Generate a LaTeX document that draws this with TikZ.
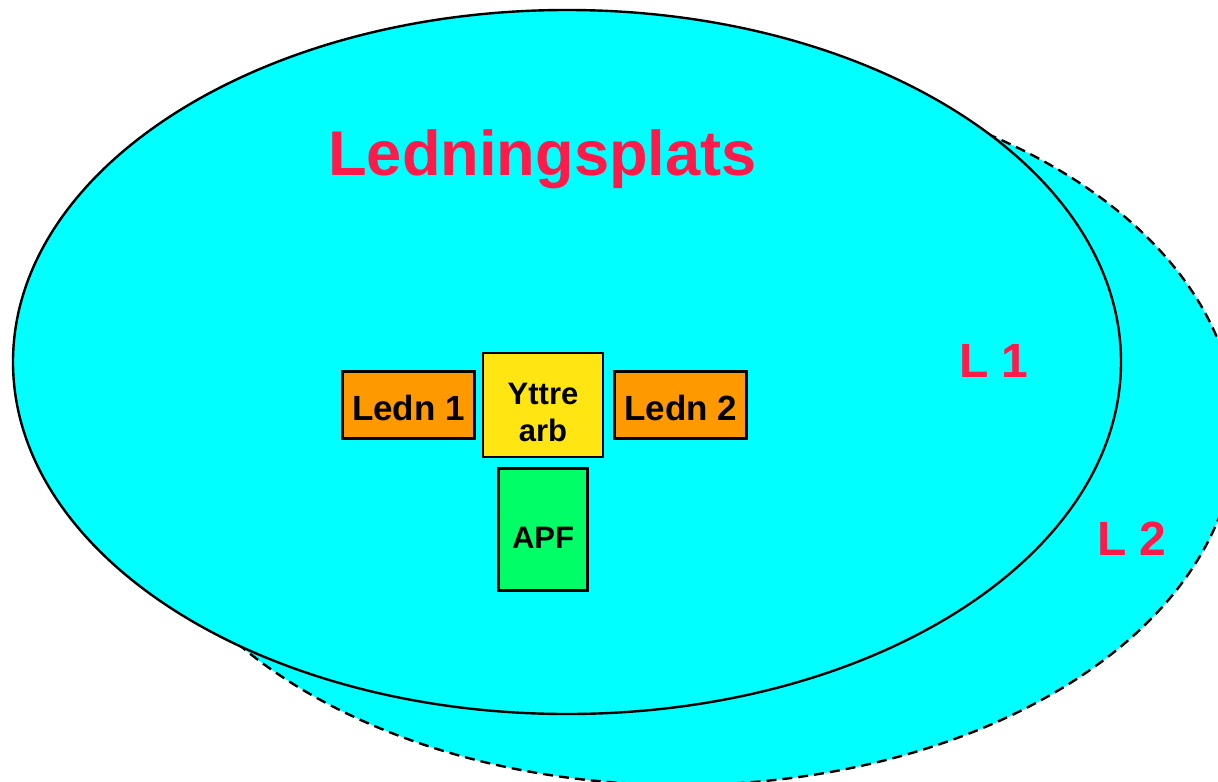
\documentclass[tikz,border=0pt]{standalone}
\usepackage{fontspec}
\setmainfont{Liberation Sans}
\usepackage{tikz}
\usetikzlibrary{positioning}
\usetikzlibrary{shapes}

\definecolor{plcyan}{RGB}{0,255,255}
\definecolor{plred}{RGB}{255,26,74}
\definecolor{plorange}{RGB}{255,153,0}
\definecolor{plyellow}{RGB}{255,230,18}
\definecolor{plgreen}{RGB}{0,255,102}

\tikzset{
    lplats/.style={
           ellipse,
           draw=black, line width=1.2pt,
           fill=plcyan,
           inner sep=0pt,
           },
    ledbox/.style={
           rectangle,
           draw=black, line width=1.3pt,
           fill=plorange,
           minimum width=66pt,
           minimum height=33.5pt,
           inner sep=0pt,
           text height=15pt,
           text depth=0pt,
           font=\fontsize{17.5}{21}\selectfont\bfseries,
           text centered,
           },
    arbbox/.style={
           rectangle,
           draw=black, line width=1.3pt,
           fill=plyellow,
           minimum width=60pt,
           minimum height=52pt,
           inner sep=0pt,
           text height=36.6pt,
           text depth=0pt,
           align=center,
           font=\fontsize{15.5}{18.5}\selectfont\bfseries,
           },
    apfbox/.style={
           rectangle,
           draw=black, line width=1.3pt,
           fill=plgreen,
           minimum width=44.5pt,
           minimum height=61pt,
           inner sep=0pt,
           text height=19pt,
           text depth=0pt,
           font=\fontsize{15.5}{18.5}\selectfont\bfseries,
           text centered,
           },
    redtext/.style={
           text=plred,
           inner sep=0pt,
           anchor=base,
           }
}

\begin{document}
\begin{tikzpicture}
[
x=0.5pt,y=-0.5pt
]
 \useasboundingbox (0,0) rectangle (1218,781);

 % L 2, the dashed one behind
 \node[lplats,
 dash pattern=on 5pt off 3pt,
 minimum width=555pt,
 minimum height=355pt] (LP2) at (681,430) {};

 % L 1 in front
 \node[lplats,
 minimum width=554pt,
 minimum height=352pt] (LP1) at (567,362) {};

 % heading
 \node[redtext,
 font=\fontsize{31.6}{36}\selectfont\bfseries] (TITLE) at (542.5,175) {Ledningsplats};

 % the boxes in the middle
 \node[arbbox] (YTTRE) at (543,405)
 {%
Yttre\\arb
 };

 \node[ledbox,
 left=3pt of YTTRE] (LEDN1)
 {%
Ledn 1
 };

 \node[ledbox,
 right=4.5pt of YTTRE] (LEDN2)
 {%
Ledn 2
 };

 \node[apfbox,
 below=4.5pt of YTTRE] (APF)
 {%
APF
 };

 % level names
 \node[redtext,
 font=\fontsize{24}{28}\selectfont\bfseries] (L1) at (994,377) {L 1};
 \node[redtext,
 font=\fontsize{24}{28}\selectfont\bfseries] (L2) at (1132,555) {L 2};

\end{tikzpicture}
\end{document}
